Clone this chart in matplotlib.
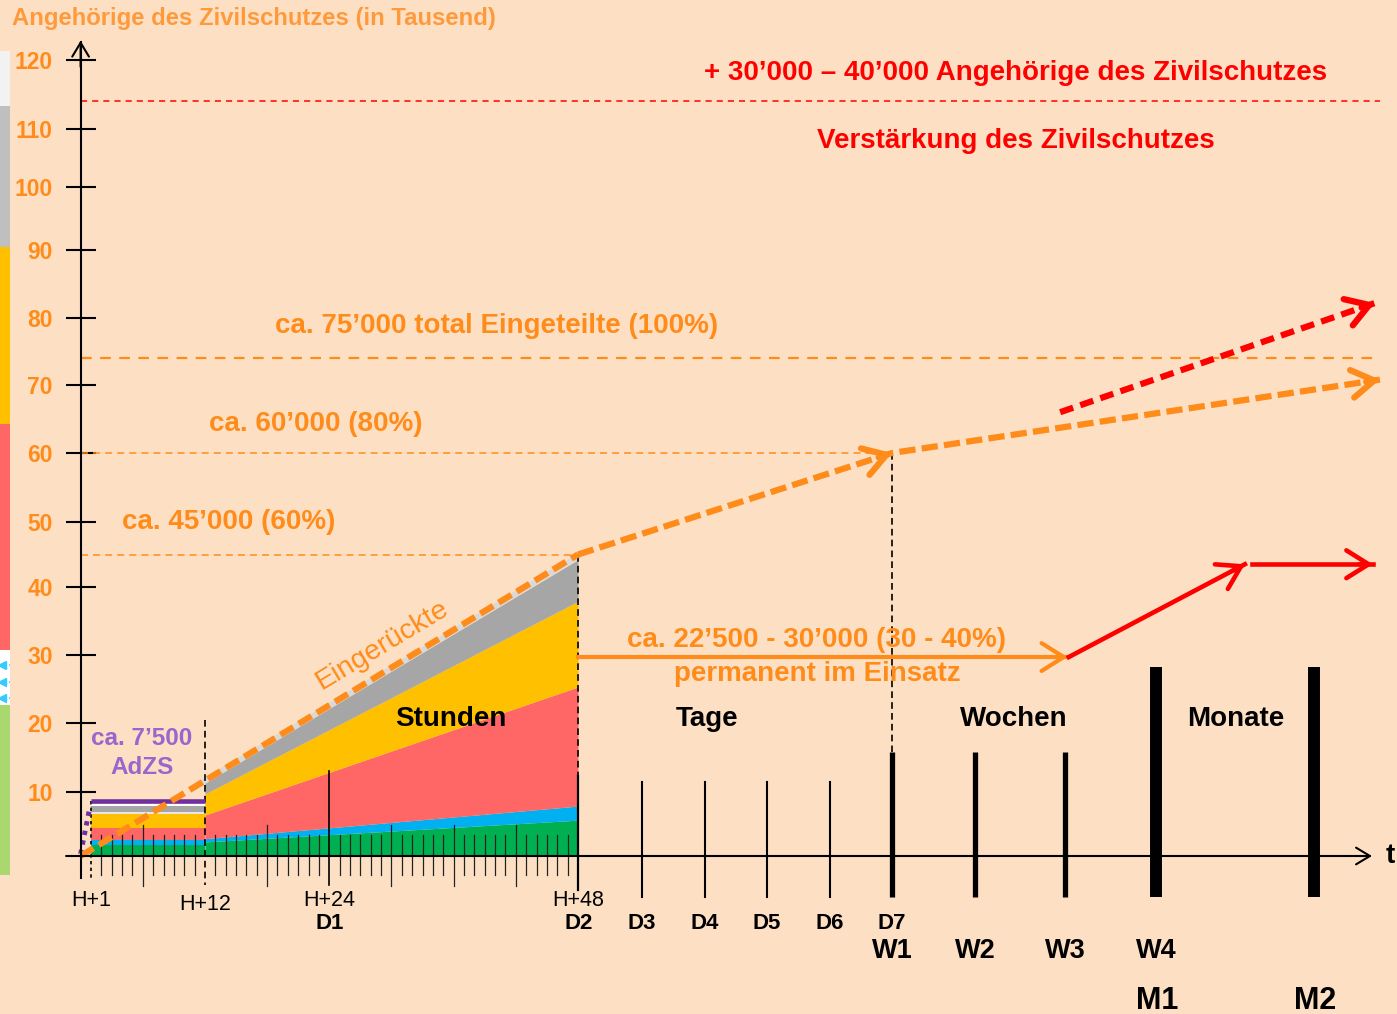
import matplotlib.pyplot as plt
import numpy as np

plt.rcParams['font.family'] = ['Liberation Sans', 'DejaVu Sans']

BG = '#FDE0C4'
ORANGE = '#FF8C1A'
TITLE_OR = '#FF9A3C'
RED = '#FF0000'
PURPLE = '#7030A0'
PURPLE_TXT = '#9966CC'

#//*********************** gestauchte Zeitachse (Stunden) und Werteachse (Tausend)
axis_h = [-10, 0, 48, 72, 96, 120, 144, 168, 336, 504, 672, 1344, 2000]
axis_px = [-23, 80.6, 578, 642, 705, 767, 830, 892, 975, 1065, 1156, 1314, 1468]
axis_k = [-40, 0, 10, 20, 30, 40, 50, 60, 70, 80, 90, 100, 110, 120, 160]
axis_py = [1112, 856, 792, 723, 655, 587, 522, 453, 385, 318, 250, 187, 129, 60, -216]

#//*********************** Daten
y_ticks = [10, 20, 30, 40, 50, 60, 70, 80, 90, 100, 110, 120]

# Bänder bis H+12 (flach) und H+12..H+48 (linear), Obergrenzen in Tausend
seg1_h = [1, 12]
seg1_green = [1.7, 1.7]
seg1_blue = [2.5, 2.5]
seg1_red = [4.4, 4.4]
seg1_yellow = [6.6, 6.6]
seg1_light = [6.9, 6.9]
seg1_grey = [7.8, 7.8]
seg1_white = [8.1, 8.1]
adzs_level = 8.6

seg2_h = [12, 48]
seg2_green = [2.2, 5.6]
seg2_blue = [2.7, 7.8]
seg2_red = [6.4, 25.3]
seg2_yellow = [9.7, 37.9]
seg2_grey = [11.4, 44.2]

# Linien / Pfeile (Stunden, Tausend)
eingerueckt_h = [0, 48]
eingerueckt_k = [0, 45]
trend_h = [48, 168, 1625]
trend_k = [45, 60, 70.8]
verst_h = [495, 1603]
verst_k = [66.0, 82.2]
perm_h = [48, 509]
perm_k = [29.7, 29.7]
rise_h = [511, 1050]
rise_k = [29.7, 43.5]
flat_h = [1080, 1595]
flat_k = [43.5, 43.5]

level_red = 114
level_100 = 74
level_80 = 60
level_60 = 45

# Zeitmarken
hour_ticks = list(range(2, 48))
day_h = [72, 96, 120, 144]
day_labels = ['D3', 'D4', 'D5', 'D6']
week_h = [168, 336, 504]
week_labels = ['W1', 'W2', 'W3', 'W4']
week_label_h = [168, 336, 504, 672]
month_h = [672, 1344]
month_labels = ['M1', 'M2']

# Farbleiste links (Tausend)
bar_bottoms = [-3.0, 22.6, 30.7, 64.3, 90.5, 113.3]
bar_tops = [22.6, 30.7, 64.3, 90.5, 113.3, 121.3]
bar_colors = ['#A9D86E', '#FFFFFF', '#FF6666', '#FFC000', '#BFBFBF', '#F2F2F2']
cyan_k = [28.5, 26.0, 23.7]


def fwd_x(h):
    return np.interp(h, axis_h, axis_px)


def inv_x(p):
    return np.interp(p, axis_px, axis_h)


def fwd_y(k):
    return -np.interp(k, axis_k, axis_py)


def inv_y(t):
    return np.interp(-np.asarray(t), axis_py[::-1], axis_k[::-1])


fig = plt.figure(figsize=(13.97, 10.14), dpi=100, facecolor=BG)
ax = fig.add_axes([0, 0, 1, 1], facecolor=BG)
ax.set_xscale('function', functions=(fwd_x, inv_x))
ax.set_yscale('function', functions=(fwd_y, inv_y))
ax.set_xlim(float(inv_x(0)), float(inv_x(1397)))
ax.set_ylim(float(inv_y(-1014)), float(inv_y(0)))


def head(x0, y0, x1, y1, color, lw):
    p0 = ax.transData.transform((x0, y0))
    p1 = ax.transData.transform((x1, y1))
    d = (p1 - p0) / np.hypot(*(p1 - p0)) * 14
    ax.annotate('', xy=(x1, y1), xytext=(-d[0], -d[1]), textcoords='offset pixels',
                arrowprops=dict(arrowstyle='->,head_length=0.8,head_width=0.5',
                                mutation_scale=20, color=color, lw=lw,
                                shrinkA=0, shrinkB=0, capstyle='round',
                                joinstyle='round'), zorder=6)


# Farbleiste
for b, t, c in zip(bar_bottoms, bar_tops, bar_colors):
    ax.bar(inv_x(5), t - b, bottom=b, width=float(inv_x(10) - inv_x(0)),
           color=c, linewidth=0, zorder=1)
for k in cyan_k:
    ax.plot([inv_x(2), inv_x(10)], [k, k], color='#33CCFF', lw=1.5, ls=(0, (2, 1.5)), zorder=2)
    ax.plot(inv_x(2), k, marker='<', color='#33CCFF', ms=6, zorder=2)

# gestapelte Flächen
prev = [0, 0]
for top, c in zip([seg1_green, seg1_blue, seg1_red, seg1_yellow, seg1_light, seg1_grey, seg1_white],
                  ['#00B050', '#00B0F0', '#FF6666', '#FFC000', '#E6E6E6', '#A6A6A6', '#FFFFFF']):
    ax.fill_between(seg1_h, prev, top, color=c, linewidth=0, zorder=2)
    prev = top
prev = [0, 0]
for top, c in zip([seg2_green, seg2_blue, seg2_red, seg2_yellow, seg2_grey],
                  ['#00B050', '#00B0F0', '#FF6666', '#FFC000', '#A6A6A6']):
    ax.fill_between(seg2_h, prev, top, color=c, linewidth=0, zorder=2)
    prev = top
ax.plot(seg2_h, [seg2_grey[0] + 0.2, seg2_grey[1] + 0.5], color='#D9D9D9', lw=4, zorder=3)

# AdZS
ax.plot(seg1_h, [adzs_level, adzs_level], color=PURPLE, lw=3.3, solid_capstyle='butt', zorder=4)
ax.plot([0, 0.9], [0.3, 7.7], color=PURPLE, lw=3.5, ls=(0, (0.9, 1.1)), zorder=4)

# horizontale Niveaus
ax.plot([0, 1625], [level_red, level_red], color=RED, lw=1.1, ls=(0, (4, 3.3)), zorder=3)
ax.plot([0, 1600], [level_100, level_100], color=ORANGE, lw=1.6, ls=(0, (4.8, 3.8)), zorder=3)
ax.plot([0, 168], [level_80, level_80], color=ORANGE, lw=1.1, ls=(0, (4.6, 3.3)), zorder=3)
ax.plot([0, 48], [level_60, level_60], color=ORANGE, lw=1.1, ls=(0, (4.6, 3.3)), zorder=3)

# senkrechte Hilfslinien
ax.plot([168, 168], [level_80, 15.8], color='black', lw=1.2, ls=(0, (4, 2.5)), zorder=3)
ax.plot([48, 48], [level_60, 0], color='black', lw=1.2, ls=(0, (4, 2.5)), zorder=3)
ax.plot([12, 12], [20.4, -4.5], color='black', lw=1.2, ls=(0, (4, 2.5)), zorder=3)
ax.plot([1, 1], [8.6, -3.8], color='black', lw=1.2, ls=(0, (2, 2)), zorder=3)

# Eingerückte
ax.plot(eingerueckt_h, eingerueckt_k, color=ORANGE, lw=4.5, ls=(0, (2.4, 1.0)), zorder=5)
ax.plot(trend_h, trend_k, color=ORANGE, lw=4.5, ls=(0, (2.6, 1.0)), zorder=5)
head(trend_h[0], trend_k[0], trend_h[1], trend_k[1], ORANGE, 4.5)
head(trend_h[1], trend_k[1], trend_h[2], trend_k[2], ORANGE, 4.5)
ax.plot(verst_h, verst_k, color=RED, lw=4.5, ls=(0, (2.2, 1.2)), zorder=5)
head(verst_h[0], verst_k[0], verst_h[1], verst_k[1], RED, 4.5)

ax.plot(perm_h, perm_k, color=ORANGE, lw=3, zorder=5)
head(perm_h[0], perm_k[0], perm_h[1], perm_k[1], ORANGE, 3)
ax.plot(rise_h, rise_k, color=RED, lw=3.3, zorder=5)
head(rise_h[0], rise_k[0], rise_h[1], rise_k[1], RED, 3.3)
ax.plot(flat_h, flat_k, color=RED, lw=3.3, zorder=5)
head(flat_h[0], flat_k[0], flat_h[1], flat_k[1], RED, 3.3)

# Achsen
for s in ['top', 'right', 'bottom']:
    ax.spines[s].set_visible(False)
ax.spines['left'].set_position(('data', 0))
ax.spines['left'].set_bounds(-3.4, 122.6)
ax.spines['left'].set_linewidth(1.5)
ax.spines['left'].set_zorder(6)
ax.set_yticks(y_ticks)
ax.set_yticklabels([str(v) for v in y_ticks], color=ORANGE, fontsize=16.5, fontweight='bold')
ax.tick_params(axis='y', direction='inout', length=22, width=1.5, pad=9)
ax.set_xticks([])
ax.annotate('', xy=(0, 122.8), xytext=(0, 119),
            arrowprops=dict(arrowstyle='->,head_length=0.5,head_width=0.3', mutation_scale=20,
                            color='black', lw=1.5, shrinkA=0, shrinkB=0), zorder=6)
ax.annotate('', xy=(1591, 0), xytext=(-1.4, 0),
            arrowprops=dict(arrowstyle='->,head_length=0.5,head_width=0.3', mutation_scale=20,
                            color='black', lw=1.5, shrinkA=0, shrinkB=0), zorder=6)
ax.text(1667, 0, 't', fontsize=20, fontweight='bold', ha='center', va='center')

# Stunden-Ticks
for h in hour_ticks:
    if h == 24:
        ax.plot([h, h], [13.0, -4.6], color='black', lw=1.2, zorder=4)
    elif h % 6 == 0 and h != 12:
        ax.plot([h, h], [4.8, -4.7], color='#222222', lw=0.9, zorder=4)
    elif h != 12:
        ax.plot([h, h], [3.3, -3.0], color='#222222', lw=0.9, zorder=4)
ax.plot([48, 48], [12.3, -5.3], color='black', lw=1.6, zorder=4)
for h in day_h:
    ax.plot([h, h], [11.5, -6.4], color='black', lw=1.5, zorder=4)
for h in week_h:
    ax.plot([h, h], [15.8, -6.4], color='black', lw=3.8, solid_capstyle='butt', zorder=4)
for h in month_h:
    ax.plot([h, h], [28.2, -6.4], color='black', lw=8.6, solid_capstyle='butt', zorder=4)

# Beschriftung Zeitachse
for h, lab, y in [(1, 'H+1', -7.0), (12, 'H+12', -7.6), (24, 'H+24', -7.0), (48, 'H+48', -7.0)]:
    ax.text(h, y, lab, fontsize=15.5, ha='center', va='center')
ax.text(24, -10.6, 'D1', fontsize=16, fontweight='bold', ha='center', va='center')
ax.text(48.2, -10.6, 'D2', fontsize=16, fontweight='bold', ha='center', va='center')
for h, lab in zip(day_h + [168], day_labels + ['D7']):
    ax.text(h, -10.6, lab, fontsize=16, fontweight='bold', ha='center', va='center')
for h, lab in zip(week_label_h, week_labels):
    ax.text(h, -14.8, lab, fontsize=19.5, fontweight='bold', ha='center', va='center')
for h, lab in zip(month_h, month_labels):
    ax.text(h + 3, -22.6, lab, fontsize=22, fontweight='bold', ha='center', va='center')

# Texte
fig.text(12 / 1397, 1 - 18 / 1014, 'Angehörige des Zivilschutzes (in Tausend)', color=TITLE_OR,
         fontsize=17.2, fontweight='bold', va='center', ha='left')
ax.text(412, 118.1, '+ 30’000 – 40’000 Angehörige des Zivilschutzes', color=RED,
        fontsize=20, fontweight='bold', ha='center', va='center')
ax.text(412, 107.9, 'Verstärkung des Zivilschutzes', color=RED,
        fontsize=20, fontweight='bold', ha='center', va='center')
ax.text(40.1, 78.8, 'ca. 75’000 total Eingeteilte (100%)', color=ORANGE,
        fontsize=20, fontweight='bold', ha='center', va='center')
ax.text(22.7, 64.3, 'ca. 60’000 (80%)', color=ORANGE,
        fontsize=20, fontweight='bold', ha='center', va='center')
ax.text(14.3, 50.0, 'ca. 45’000 (60%)', color=ORANGE,
        fontsize=20, fontweight='bold', ha='center', va='center')
ax.text(139, 32.2, 'ca. 22’500 - 30’000 (30 - 40%)', color=ORANGE,
        fontsize=20, fontweight='bold', ha='center', va='center', zorder=7)
ax.text(139, 27.2, 'permanent im Einsatz', color=ORANGE,
        fontsize=20, fontweight='bold', ha='center', va='center', zorder=7)
ax.text(5.9, 17.7, 'ca. 7’500', color=PURPLE_TXT, fontsize=17.5, fontweight='bold',
        ha='center', va='center')
ax.text(5.9, 13.5, 'AdZS', color=PURPLE_TXT, fontsize=17.5, fontweight='bold',
        ha='center', va='center')
ax.text(29.1, 31.5, 'Eingerückte', color=ORANGE, fontsize=20.5, rotation=31,
        ha='center', va='center', zorder=7)
ax.text(35.75, 20.6, 'Stunden', fontsize=20, fontweight='bold', ha='center', va='center', zorder=7)
ax.text(96.8, 20.6, 'Tage', fontsize=20, fontweight='bold', ha='center', va='center')
ax.text(409, 20.6, 'Wochen', fontsize=20, fontweight='bold', ha='center', va='center')
ax.text(1012, 20.6, 'Monate', fontsize=20, fontweight='bold', ha='center', va='center')

plt.savefig('out.png', dpi=100, facecolor=BG)
